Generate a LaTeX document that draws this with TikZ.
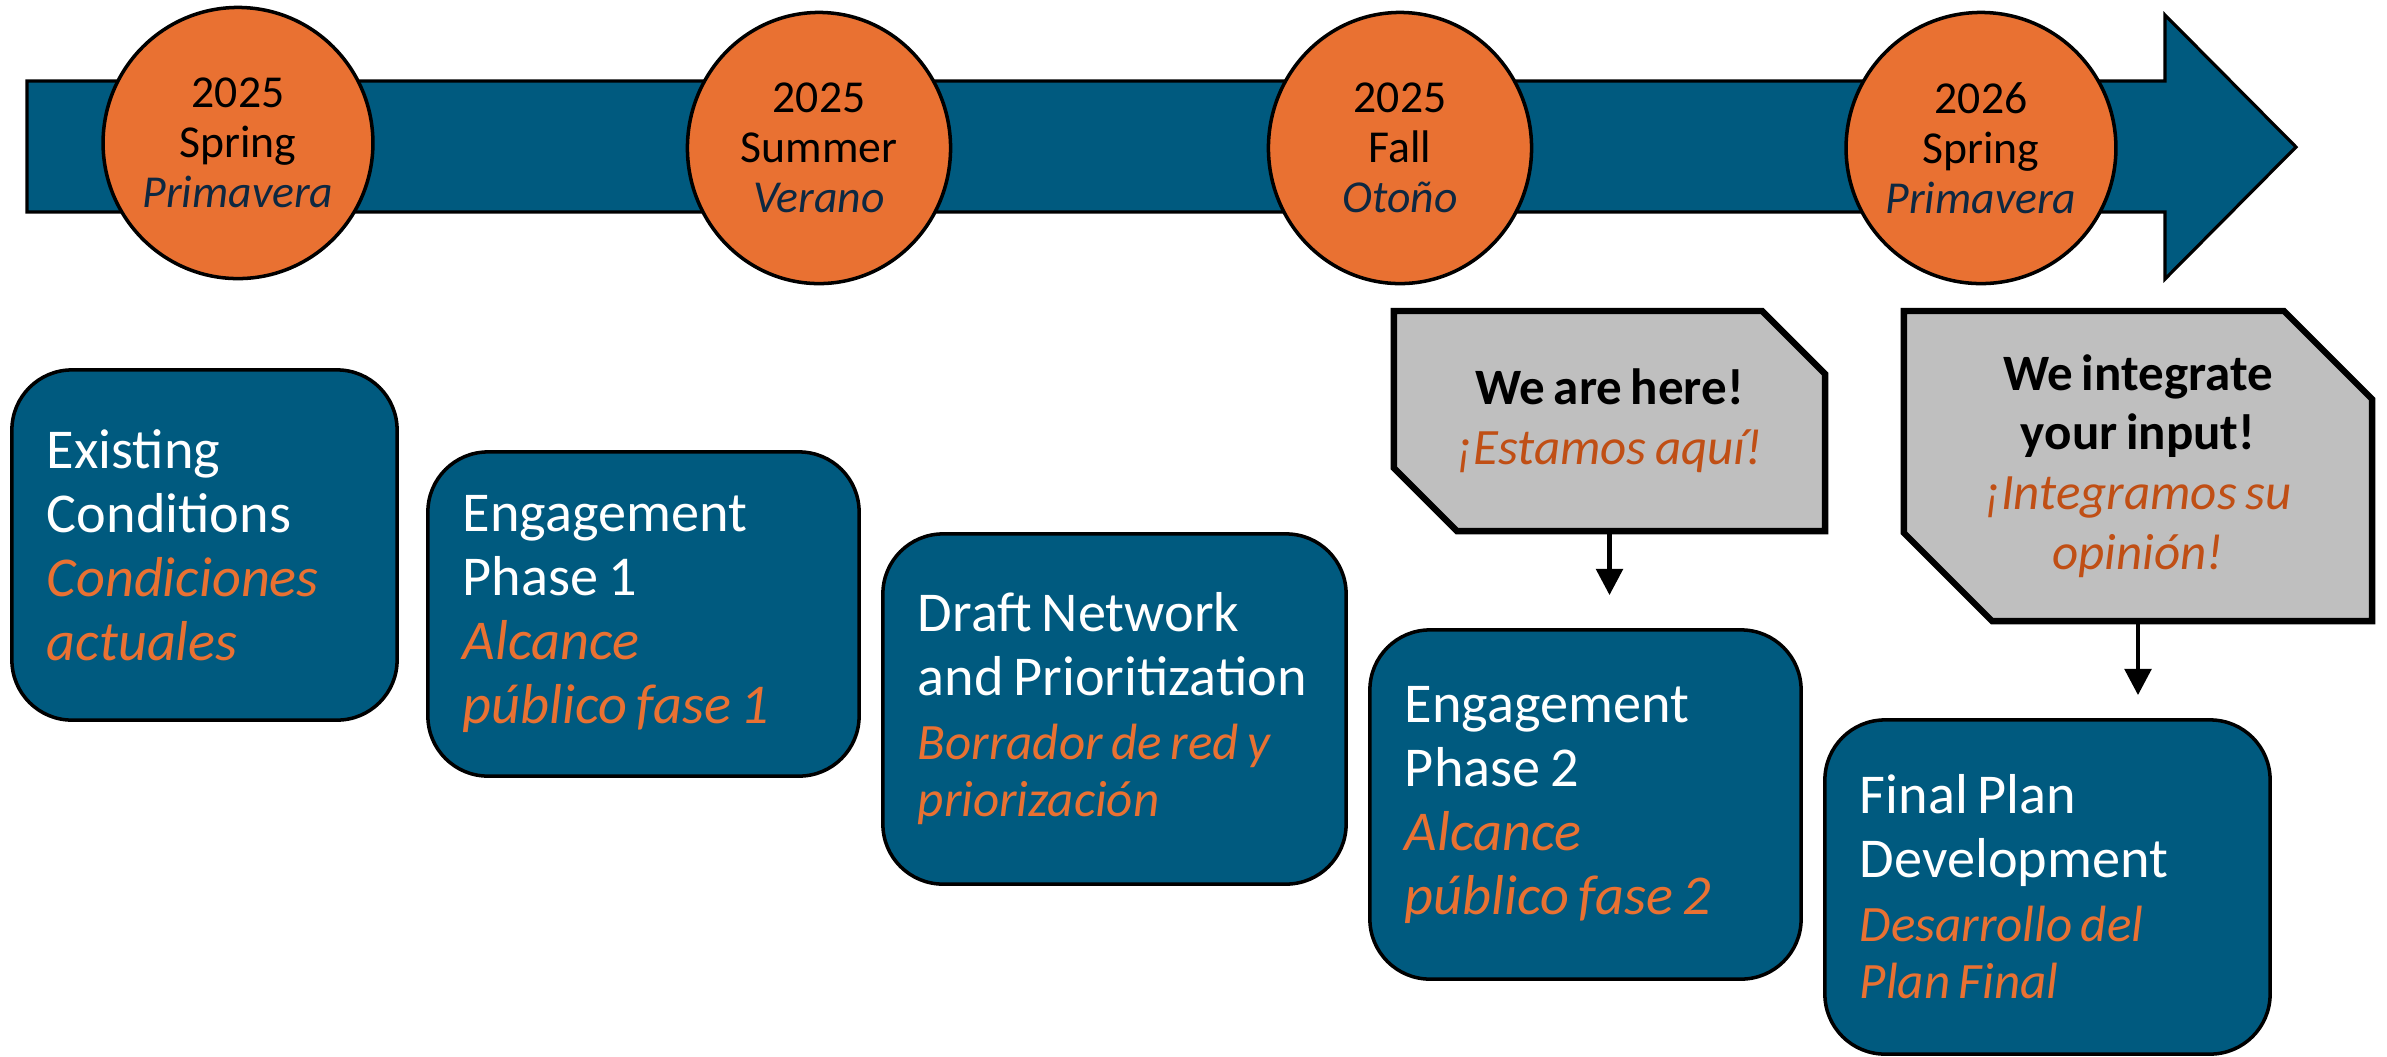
\documentclass[tikz,border=0pt]{standalone}
\usepackage{fontspec}
\setmainfont{Carlito}[WordSpace=0.75]
\usetikzlibrary{shapes.geometric,shapes.misc,arrows.meta}
\definecolor{planblue}{HTML}{005A7F}
\definecolor{planorange}{HTML}{E97132}
\definecolor{darkorange}{HTML}{C04F15}
\definecolor{navytext}{HTML}{0E2841}
\definecolor{notegray}{HTML}{BFBFBF}
\newcommand{\seasonsp}[1]{{\color{navytext}\itshape #1}}
\newcommand{\phasesp}[1]{{\color{planorange}\itshape #1}}
\newcommand{\phasespsm}[1]{{\color{planorange}\itshape\fontsize{14.5}{16}\selectfont #1}}
\newcommand{\notesp}[1]{{\color{darkorange}\itshape #1}}

\begin{document}
\begin{tikzpicture}[x=0.01cm,y=-0.01cm,
season/.style={ellipse,draw,line width=1pt,fill=planorange,minimum width=2.63cm,minimum height=2.71cm,inner sep=0pt,align=center,font=\fontsize{13}{14.2}\selectfont},
phase/.style={draw,line width=1pt,fill=planblue,rounded corners=0.6cm,text=white,align=flush left,inner xsep=0pt,font=\fontsize{16}{18.2}\selectfont},
note/.style={chamfered rectangle,chamfered rectangle corners={north east,south west},draw,line width=1.8pt,fill=notegray,align=center,inner sep=0pt,font=\fontsize{14.5}{17}\selectfont},
pointer/.style={-{Triangle[width=7.5pt,length=7.5pt]},line width=1.4pt}]
\useasboundingbox (0,0) rectangle (2387,1056);
% timeline bar
\draw[line width=0.9pt,fill=planblue] (27,81) -- (2165,81) -- (2165,15) -- (2296,147) -- (2165,279) -- (2165,212) -- (27,212) -- cycle;
\node[season] (spring25) at (238,143) {2025\\Spring\\\seasonsp{Primavera}};
\node[season] (summer25) at (819,148) {2025\\Summer\\\seasonsp{Verano}};
\node[season] (fall25) at (1400,148) {2025\\Fall\\\seasonsp{Otoño}};
\node[season] (spring26) at (1981,148) {2026\\Spring\\\seasonsp{Primavera}};
% phases
\node[phase,minimum width=3.85cm,minimum height=3.5cm,text width=3.15cm] (existing) at (204.5,545)
{Existing\\Conditions\\\phasesp{Condiciones}\\\phasesp{actuales}};
\node[phase,minimum width=4.31cm,minimum height=3.24cm,text width=3.61cm] (phaseone) at (643.5,614)
{Engagement\\Phase 1\\\phasesp{Alcance}\\\phasesp{público fase 1}};
\node[phase,minimum width=4.63cm,minimum height=3.5cm,text width=3.93cm] (draft) at (1114.5,709)
{Draft Network\\\mbox{and Prioritization}\\\phasespsm{Borrador de red y}\\[-2pt]\phasespsm{priorización}};
\node[phase,minimum width=4.31cm,minimum height=3.49cm,text width=3.61cm] (phasetwo) at (1585.5,804.5)
{Engagement\\Phase 2\\\phasesp{Alcance}\\\phasesp{público fase 2}};
\node[phase,minimum width=4.45cm,minimum height=3.34cm,text width=3.75cm] (final) at (2047.5,887)
{Final Plan\\Development\\\phasespsm{Desarrollo del}\\[-2pt]\phasespsm{Plan Final}};
% notes
\node[note,minimum width=4.31cm,minimum height=2.2cm,chamfered rectangle xsep=0.55cm] (here) at (1609.5,421)
{\textbf{We are here!}\\\notesp{¡Estamos aquí!}};
\node[note,minimum width=4.68cm,minimum height=3.1cm,chamfered rectangle xsep=0.77cm] (input) at (2138,466)
{\textbf{We integrate}\\\textbf{your input!}\\\notesp{¡Integramos su}\\\notesp{opinión!}};
\draw[pointer,shorten >=0.33cm] (here.south) -- (here.south |- phasetwo.north);
\draw[pointer,shorten >=0.23cm] (input.south) -- (input.south |- final.north);
\end{tikzpicture}
\end{document}
